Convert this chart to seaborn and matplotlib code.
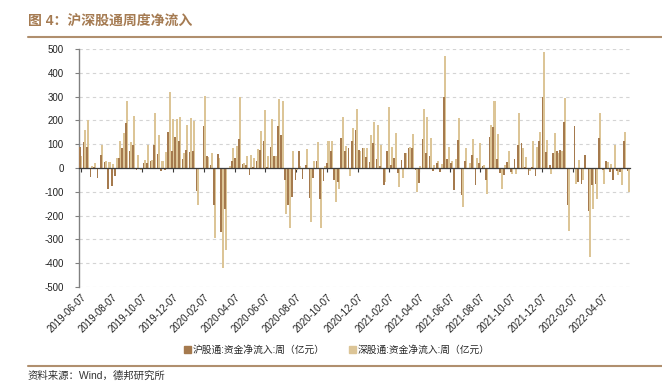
import numpy as np
import pandas as pd
import matplotlib
matplotlib.use("Agg")
import matplotlib.pyplot as plt
from matplotlib.lines import Line2D
from matplotlib.patches import Patch
import seaborn as sns

# ====================================================================
#   DATA  (weekly net inflow, 100m CNY)
# ====================================================================
start_date = "2019-06-07"
n_weeks = 156

sh_flow = [  # 沪股通
    90, 110, 90, -38, 5, -42, 55, 25, -90, -75,
    -35, 40, 85, 191, 70, 96, -10, -5, 22, 22,
    30, 96, 60, -12, -10, 152, 70, 130, 112, 37,
    75, 67, 70, -98, 0, 177, 52, 14, -155, 59,
    -267, -172, -3, 28, 40, 121, 18, 14, -28, 5,
    28, 75, 115, 5, 88, 50, 176, 138, -50, -155,
    -122, -50, 70, -48, 14, -127, -40, 30, -130, -56,
    22, 70, -52, -59, 124, 70, 86, 112, 159, 75,
    82, 45, 25, 103, 39, 8, -70, 70, 14, 42,
    -20, 35, 65, 84, 82, -10, -62, 120, 65, 51,
    -11, 22, -17, 300, 39, 22, -94, 117, -112, 28,
    -3, 53, -70, 22, 7, -52, 131, 173, 39, -20,
    -31, 25, -17, 39, 96, 107, 3, -28, 5, -34,
    112, 300, 68, 11, 65, 70, 77, 194, -155, 0,
    176, -59, -66, 53, -179, -73, -66, 124, -10, 28,
    -17, -49, -14, -17, 112, -14,
]
sz_flow = [  # 深股通
    50, 160, 200, 8, 22, -5, 95, 28, 25, 18,
    40, 112, 146, 281, 110, 220, 53, -8, 34, 98,
    34, 230, 138, 30, 68, 321, 205, 205, 214, 65,
    180, 208, 197, -157, 0, 302, 45, 65, -296, 40,
    -422, -343, 8, 82, 93, 300, 22, 50, 53, 42,
    79, 157, 244, 49, 205, 50, 290, 283, -195, -253,
    73, -10, 10, -5, 79, -225, 28, 110, -253, 8,
    114, 112, -143, -87, 216, 91, -34, 170, 247, 73,
    84, 84, 138, 194, 180, 96, -59, 255, 87, 148,
    -80, -42, 62, 89, 142, -101, 8, 250, 214, 124,
    14, 28, 18, 471, 89, 28, 39, 211, -165, 84,
    21, 120, 42, 103, 11, -108, 180, 281, 141, -90,
    14, 70, -24, -24, 233, 82, 45, -14, 112, 89,
    152, 489, 117, -25, 148, 65, 70, 295, -264, 0,
    -66, 35, -50, -5, -372, -171, -132, 233, -66, 25,
    18, 98, -28, -73, 152, -101,
]

tick_labels = [
    "2019-06-07", "2019-08-07", "2019-10-07", "2019-12-07",
    "2020-02-07", "2020-04-07", "2020-06-07", "2020-08-07",
    "2020-10-07", "2020-12-07", "2021-02-07", "2021-04-07",
    "2021-06-07", "2021-08-07", "2021-10-07", "2021-12-07",
    "2022-02-07", "2022-04-07",
]

sh_name = "沪股通:资金净流入:周（亿元）"
sz_name = "深股通:资金净流入:周（亿元）"
dark_color = "#A57A4E"
light_color = "#DCC597"
brown = "#A57B52"

# ====================================================================
#   PLOT
# ====================================================================
weeks = pd.date_range(start_date, periods=n_weeks, freq="7D")
df = pd.DataFrame({
    "week": np.tile(np.arange(n_weeks), 2),
    "series": [sh_name] * n_weeks + [sz_name] * n_weeks,
    "value": sh_flow + sz_flow,
})

sns.set_theme(style="white")
plt.rcParams["font.family"] = ["Liberation Sans", "Noto Sans CJK SC", "DejaVu Sans"]
plt.rcParams["axes.unicode_minus"] = False

fig = plt.figure(figsize=(6.62, 3.82), dpi=100)
ax = fig.add_axes([79 / 662, 1 - 287 / 382, 551 / 662, 238 / 382])

sns.barplot(data=df, x="week", y="value", hue="series",
            palette=[dark_color, light_color], dodge=True, width=0.95,
            saturation=1, legend=False, ax=ax)

# let the light bars sit behind the dark ones, slightly overlapped
dark_bars, light_bars = ax.containers[0], ax.containers[1]
for p in dark_bars:
    p.set_zorder(3)
    p.set_linewidth(0)
for p in light_bars:
    p.set_x(p.get_x() - 0.15)
    p.set_width(p.get_width() + 0.1)
    p.set_zorder(2)
    p.set_linewidth(0)

ax.set_xlim(-0.5, n_weeks - 0.5)
ax.set_ylim(-500, 500)
ax.set_yticks(np.arange(-500, 501, 100))
ax.yaxis.grid(True, linestyle=(0, (3, 3)), color="#D4D4D4", linewidth=0.8, zorder=0)
ax.set_axisbelow(True)
ax.set_xlabel("")
ax.set_ylabel("")

# x axis line at zero, tick marks there, labels at the bottom
tick_pos = [(pd.Timestamp(t) - weeks[0]).days / 7 for t in tick_labels]
for s in ["top", "right"]:
    ax.spines[s].set_visible(False)
ax.spines["bottom"].set_position(("data", 0))
ax.spines["bottom"].set_color("#3a3a3a")
ax.spines["bottom"].set_linewidth(0.9)
ax.spines["bottom"].set_zorder(4)
ax.spines["left"].set_color("#808080")
ax.spines["left"].set_linewidth(1.0)
ax.set_xticks(tick_pos)
ax.tick_params(axis="x", bottom=True, length=3, width=0.8, color="#3a3a3a",
               direction="out", labelbottom=False)
ax.tick_params(axis="y", left=True, length=3, width=0.8, color="#808080",
               labelsize=7, pad=8, labelcolor="#222222")

sec = ax.secondary_xaxis("bottom")
sec.set_xticks(tick_pos, tick_labels)
sec.spines["bottom"].set_visible(False)
sec.tick_params(length=0, pad=4, labelsize=7, labelcolor="#222222")
for lab in sec.get_xticklabels():
    lab.set_rotation(45)
    lab.set_ha("right")
    lab.set_rotation_mode("anchor")

# legend
handles = [Patch(color=dark_color), Patch(color=light_color)]
fig.legend(handles, [sh_name, sz_name], loc="center",
           bbox_to_anchor=(337 / 662, 1 - 350 / 382), ncol=2, frameon=False,
           fontsize=7, handlelength=0.7, handleheight=0.7,
           handletextpad=0.2, columnspacing=2.5)

# title, rules and source
fig.text(28 / 662, 1 - 21 / 382, "图 4：沪深股通周度净流入", fontsize=10,
         fontweight="bold", color=brown, va="center", ha="left")
fig.add_artist(Line2D([28 / 662, 1], [1 - 37 / 382] * 2, color="#B08F6E", linewidth=1.5))
fig.add_artist(Line2D([28 / 662, 1], [1 - 366 / 382] * 2, color="#B08F6E", linewidth=1.5))
fig.text(28 / 662, 1 - 381 / 382, "资料来源：Wind，德邦研究所", fontsize=7.5,
         color="#333333", va="bottom", ha="left")

fig.savefig("out.png", dpi=100)
